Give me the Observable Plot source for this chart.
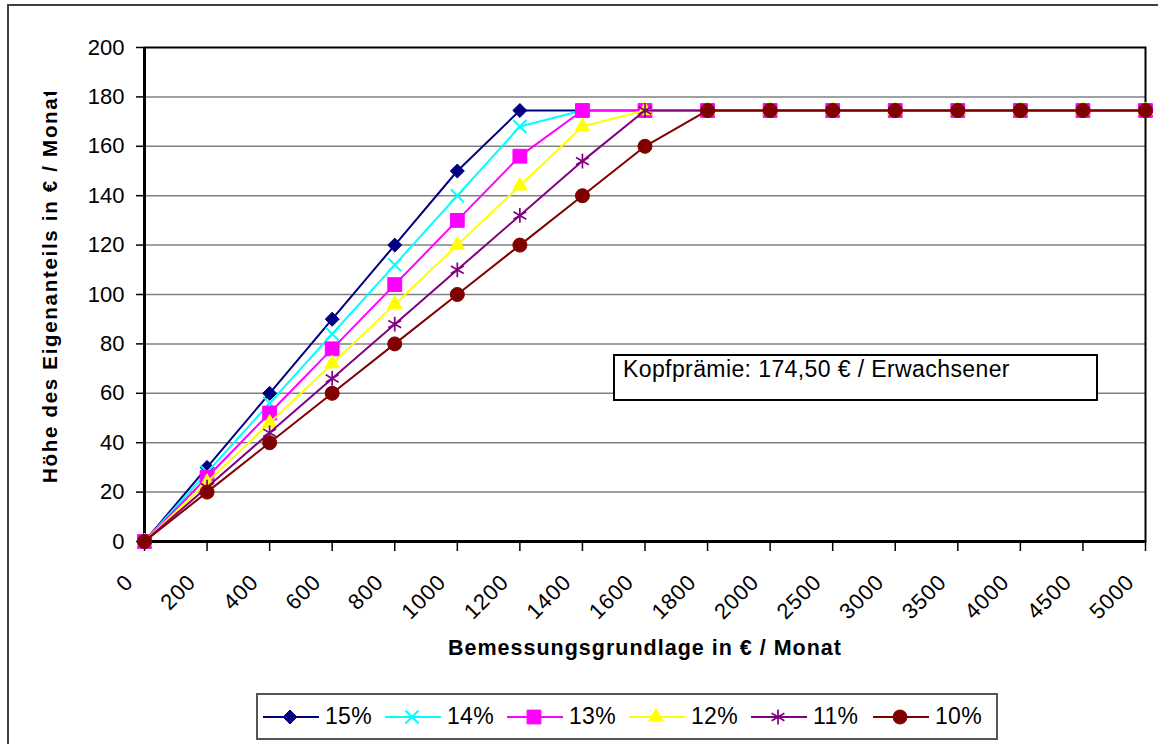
<!DOCTYPE html>
<html>
<head>
<meta charset="utf-8">
<script src="https://cdn.jsdelivr.net/npm/d3@7"></script>
<script src="https://cdn.jsdelivr.net/npm/@observablehq/plot@0.6"></script>
<style>
  html, body { margin: 0; padding: 0; background: #fff; }
  body { font-family: Arial, "Liberation Sans", sans-serif; }
  #wrap { position: relative; width: 1158px; height: 744px; overflow: hidden; background: #fff; }
  #chart { position: absolute; left: 0; top: 0; }
  #border { position: absolute; left: 7px; top: 4px; width: 1200px; height: 800px; border: 2px solid #404040; box-sizing: border-box; pointer-events: none; }
  #note { position: absolute; left: 613px; top: 354px; width: 485px; height: 47px; box-sizing: border-box; border: 2px solid #000; background: #fff; font-size: 23px; line-height: 26px; padding-left: 8px; color: #000; white-space: nowrap; letter-spacing: 0.4px; }
  #legend { position: absolute; left: 256px; top: 693px; width: 742px; height: 47px; box-sizing: border-box; border: 2px solid #555; background: #fff; display: flex; align-items: center; padding-left: 5px; }
  .item { display: flex; align-items: center; width: 122px; flex: none; }
  .item span { font-size: 23px; margin-left: 6px; color: #000; letter-spacing: 0.3px; }
</style>
</head>
<body>
<div id="wrap">
  <div id="chart"></div>
  <div id="note">Kopfprämie: 174,50 € / Erwachsener</div>
  <div id="legend"></div>
  <div id="border"></div>
</div>
<script>
// ---- Data ----
const categories = ["0","200","400","600","800","1000","1200","1400","1600","1800","2000","2500","3000","3500","4000","4500","5000"];
const yTicks = [0,20,40,60,80,100,120,140,160,180,200];
const seriesNames = ["15%","14%","13%","12%","11%","10%"];
const values15 = [0,30,60,90,120,150,174.5,174.5,174.5,174.5,174.5,174.5,174.5,174.5,174.5,174.5,174.5];
const values14 = [0,28,56,84,112,140,168,174.5,174.5,174.5,174.5,174.5,174.5,174.5,174.5,174.5,174.5];
const values13 = [0,26,52,78,104,130,156,174.5,174.5,174.5,174.5,174.5,174.5,174.5,174.5,174.5,174.5];
const values12 = [0,24,48,72,96,120,144,168,174.5,174.5,174.5,174.5,174.5,174.5,174.5,174.5,174.5];
const values11 = [0,22,44,66,88,110,132,154,174.5,174.5,174.5,174.5,174.5,174.5,174.5,174.5,174.5];
const values10 = [0,20,40,60,80,100,120,140,160,174.5,174.5,174.5,174.5,174.5,174.5,174.5,174.5];
const xTitle = "Bemessungsgrundlage in € / Monat";
const yTitle = "Höhe des Eigenanteils in € / Monat";

// ---- Styles ----
const seriesValues = [values15, values14, values13, values12, values11, values10];
const markerStyles = [
  {symbol: "diamond2", r: 6.3, fill: "#000080", stroke: "#000080", strokeWidth: 1},
  {symbol: "times",    r: 6.0, fill: "none",    stroke: "#00FFFF", strokeWidth: 2},
  {symbol: "square",   r: 7.8, fill: "#FF00FF", stroke: "#FF00FF", strokeWidth: 1},
  {symbol: "triangle", r: 5.4, fill: "#FFFF00", stroke: "#FFFF00", strokeWidth: 1},
  {symbol: "asterisk", r: 7.0, fill: "none",    stroke: "#800080", strokeWidth: 1.7},
  {symbol: "circle",   r: 7.0, fill: "#800000", stroke: "#800000", strokeWidth: 1}
];

const rows = seriesNames.flatMap((s, i) => categories.map((c, j) => ({series: s, cat: c, value: seriesValues[i][j]})));

const seriesMarks = seriesNames.flatMap((s, i) => {
  const data = rows.filter(d => d.series === s);
  const m = markerStyles[i];
  return [
    Plot.line(data, {x: "cat", y: "value", stroke: m.stroke, strokeWidth: 2}),
    Plot.dot(data, {x: "cat", y: "value", symbol: () => m.symbol, r: m.r, fill: m.fill, stroke: m.stroke, strokeWidth: m.strokeWidth})
  ];
});

const plot = Plot.plot({
  width: 1158,
  height: 680,
  marginLeft: 144,
  marginRight: 13,
  marginTop: 47,
  marginBottom: 139,
  style: {fontFamily: "Arial, 'Liberation Sans', sans-serif", color: "#000", background: "transparent", overflow: "visible"},
  x: {type: "point", domain: categories, padding: 0, round: false},
  y: {domain: [0, 200]},
  symbol: {type: "identity"},
  marks: [
    Plot.gridY(yTicks.filter(t => t > 0 && t < 200), {stroke: "#808080", strokeOpacity: 1, strokeWidth: 1.5}),
    Plot.frame({stroke: "#000", strokeWidth: 2}),
    Plot.ruleX([categories[0]], {stroke: "#000", strokeWidth: 3}),
    Plot.ruleY([0], {stroke: "#000", strokeWidth: 3}),
    Plot.axisY(yTicks, {tickSize: 8, tickPadding: 12, fontSize: 22, label: null, stroke: "#000", strokeWidth: 1.5}),
    Plot.axisX(categories, {tickSize: 10, tickFormat: () => "", label: null, stroke: "#000", strokeWidth: 1.5}),
    Plot.text(categories, {x: d => d, text: d => d, frameAnchor: "bottom", rotate: -45, textAnchor: "end", lineAnchor: "bottom", dx: -10, dy: 42, fontSize: 22, fill: "#000"}),
    ...seriesMarks
  ]
});

document.getElementById("chart").appendChild(plot);

// Titles
const svg = d3.select(plot);
svg.append("defs").append("clipPath").attr("id", "ytclip")
  .append("rect").attr("x", 0).attr("y", 92).attr("width", 144).attr("height", 600);
const g = svg.append("g").attr("clip-path", "url(#ytclip)");
g.append("text")
  .attr("transform", "translate(57,483) rotate(-90)")
  .attr("text-anchor", "start")
  .style("font-weight", "bold")
  .style("font-size", "20.5px")
  .style("letter-spacing", "1.7px")
  .attr("fill", "#000")
  .text(yTitle);
svg.append("text")
  .attr("x", 645).attr("y", 655)
  .attr("text-anchor", "middle")
  .style("font-weight", "bold")
  .style("font-size", "21.5px")
  .style("letter-spacing", "1px")
  .attr("fill", "#000")
  .text(xTitle);
svg.selectAll("text").filter(function() { return this.closest("g[aria-label='text']"); }).style("letter-spacing", "0.8px");

// Legend
const symbolMap = {diamond2: d3.symbolDiamond2, times: d3.symbolTimes, square: d3.symbolSquare, triangle: d3.symbolTriangle, asterisk: d3.symbolAsterisk, circle: d3.symbolCircle};
const legend = d3.select("#legend");
seriesNames.forEach((s, i) => {
  const m = markerStyles[i];
  const item = legend.append("div").attr("class", "item");
  const sw = item.append("svg").attr("width", 56).attr("height", 24).style("overflow", "visible");
  sw.append("line").attr("x1", 0).attr("x2", 56).attr("y1", 12).attr("y2", 12).attr("stroke", m.stroke).attr("stroke-width", 2);
  sw.append("path").attr("transform", "translate(27,12)")
    .attr("d", d3.symbol(symbolMap[m.symbol], Math.PI * m.r * m.r)())
    .attr("fill", m.fill).attr("stroke", m.stroke).attr("stroke-width", m.strokeWidth);
  item.append("span").text(s);
});
</script>
</body>
</html>
